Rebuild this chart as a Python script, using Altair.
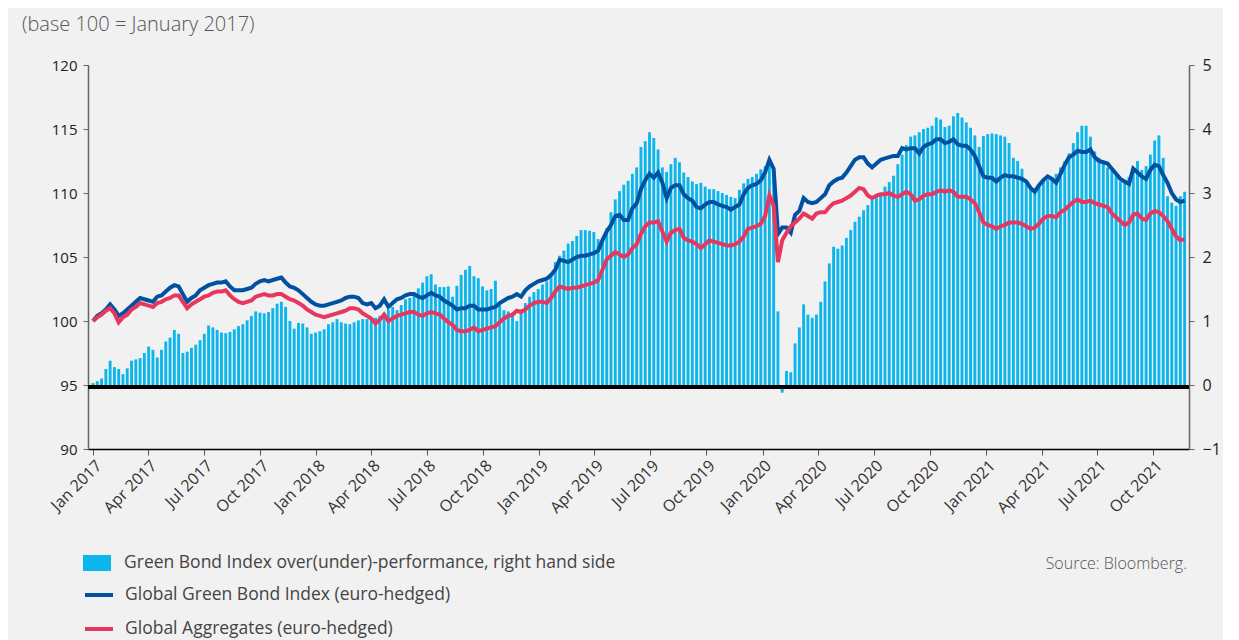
import altair as alt
import pandas as pd

# ---- data (weekly, starting 1 Jan 2017) ----
green_bond = [
    100.0, 100.4, 100.6, 100.9, 101.3, 100.9, 100.4, 100.6, 100.9, 101.2,
    101.5, 101.8, 101.7, 101.6, 101.5, 101.9, 102.0, 102.3, 102.6, 102.8,
    102.7, 102.1, 101.5, 101.8, 102.0, 102.4, 102.6, 102.8, 102.9, 103.0,
    103.0, 103.1, 102.7, 102.4, 102.4, 102.4, 102.5, 102.6, 102.9, 103.1,
    103.2, 103.1, 103.2, 103.3, 103.4, 103.0, 102.7, 102.6, 102.4, 102.1,
    101.8, 101.5, 101.3, 101.2, 101.2, 101.3, 101.4, 101.5, 101.6, 101.8,
    101.9, 101.9, 101.8, 101.4, 101.3,
    101.4, 101.0, 101.2, 101.7, 101.1,
    101.4, 101.7, 101.8, 102.0, 102.1, 102.1, 101.9, 101.8, 102.0, 102.2,
    102.0, 101.9, 101.6, 101.4, 101.2, 100.9, 101.0, 101.0, 101.2, 101.2,
    100.9, 100.9, 100.9, 101.0, 101.1, 101.4, 101.6, 101.8, 101.9, 102.1,
    101.9, 102.4, 102.7, 102.9, 103.1, 103.2, 103.3, 103.6, 104.0, 104.8,
    104.7, 104.6, 104.8, 105.0, 105.1, 105.1, 105.2, 105.3, 105.5, 106.3,
    107.0, 107.5, 108.2, 108.3, 107.9, 107.9, 108.8,
    109.2, 110.3, 111.0,
    111.5, 111.2, 111.6, 110.8, 109.6, 110.4, 110.6, 110.6, 109.9, 109.6,
    109.4, 108.9, 108.8, 109.1, 109.3, 109.3, 109.1, 109.0, 108.9, 108.7,
    108.9, 109.1, 109.9, 110.4, 110.6, 110.7, 111.0, 111.6, 112.6, 111.9,
    106.8, 107.3, 107.3, 106.9, 108.3, 108.6, 109.6, 109.3, 109.2, 109.3,
    109.6, 109.9, 110.6, 110.9, 111.1, 111.2, 111.6, 112.1, 112.6, 112.8,
    112.8, 112.3, 112.0, 112.3, 112.6, 112.7, 112.8, 112.9, 112.9, 113.5,
    113.4, 113.5,
    113.5, 113.1, 113.6, 113.8, 113.9, 114.2, 114.2, 113.9,
    114.0, 114.2, 113.8, 113.7, 113.7, 113.4, 112.9, 112.1, 111.3, 111.2,
    111.2, 110.9, 111.2, 111.4, 111.3, 111.3, 111.2, 111.1, 110.9, 110.4,
    110.1, 110.6, 111.0, 111.3, 111.1, 110.8, 111.5, 112.2, 112.8, 113.0,
    113.3, 113.2, 113.2, 113.4, 112.8, 112.5, 112.4, 112.3, 111.9, 111.5,
    111.1, 110.9, 110.7, 111.9, 111.6, 111.3, 111.1, 111.8, 112.2, 112.1,
    111.4, 110.8, 110.0, 109.5, 109.3, 109.4,
]

global_agg = [
    100.0, 100.3, 100.5, 100.8, 101.0, 100.6, 99.9, 100.3, 100.5, 100.9,
    101.1, 101.4, 101.3, 101.2, 101.1, 101.4, 101.5, 101.7, 101.8, 102.0,
    102.0, 101.5, 101.0, 101.3, 101.5, 101.7, 101.9, 102.0, 102.2, 102.3,
    102.3, 102.4, 102.0, 101.7, 101.5, 101.4, 101.5, 101.6, 101.9, 102.0,
    102.1, 102.0, 102.0, 102.1, 102.1, 101.9, 101.7, 101.6, 101.4, 101.2,
    100.9, 100.7, 100.5, 100.4, 100.3, 100.4, 100.5, 100.6, 100.7, 100.8,
    101.0, 101.0, 100.9, 100.6, 100.4,
    100.2, 99.8, 100.1, 100.5, 100.0,
    100.2, 100.4, 100.5, 100.6, 100.7, 100.7, 100.5, 100.4, 100.6, 100.7,
    100.6, 100.5, 100.2, 99.9, 99.7, 99.3, 99.2, 99.2, 99.3, 99.5,
    99.2, 99.3, 99.4, 99.5, 99.6, 99.9, 100.2, 100.4, 100.5, 100.8,
    100.7, 100.9, 101.2, 101.4, 101.5, 101.5, 101.4, 101.8, 102.3, 102.7,
    102.6, 102.5, 102.6, 102.6, 102.7, 102.8, 102.9, 103.0, 103.2, 104.0,
    104.8, 105.1, 105.4, 105.2, 105.0, 105.2, 105.7,
    106.0, 106.8, 107.4,
    107.7, 107.7, 107.8, 107.0, 106.2, 106.9, 107.1, 107.2, 106.5, 106.3,
    106.2, 106.0, 105.7, 106.0, 106.3, 106.2, 106.1, 106.0, 105.9, 105.9,
    106.0, 106.2, 106.6, 107.2, 107.3, 107.4, 107.6, 108.2, 109.8, 109.0,
    104.6, 106.3, 106.9, 107.4, 107.7, 108.0, 108.4, 108.2, 108.0, 108.4,
    108.5, 108.5, 108.9, 109.2, 109.3, 109.4, 109.6, 109.8, 110.1, 110.4,
    110.3, 109.8, 109.6, 109.8, 109.9, 109.9, 110.0, 109.8, 109.7, 109.9,
    110.1, 109.9,
    109.4, 109.5, 109.8, 109.9, 109.9, 110.1, 110.2, 110.1,
    110.2, 110.1, 109.7, 109.7, 109.7, 109.5, 109.2, 108.5, 107.7, 107.5,
    107.4, 107.2, 107.4, 107.5, 107.7, 107.7, 107.7, 107.6, 107.4, 107.2,
    107.3, 107.6, 108.0, 108.2, 108.2, 108.1, 108.5, 108.7, 109.0, 109.3,
    109.5, 109.3, 109.3, 109.4, 109.2, 109.1, 109.0, 108.9, 108.4, 108.1,
    107.8, 107.5, 107.7, 108.3, 108.4, 108.0, 107.9, 108.4, 108.6, 108.5,
    108.2, 107.8, 107.2, 106.6, 106.3, 106.4,
]

over_perf = [
    0.03, 0.06, 0.10, 0.25, 0.38, 0.28, 0.25, 0.17, 0.26, 0.38,
    0.40, 0.42, 0.50, 0.60, 0.55, 0.43, 0.55, 0.68, 0.74, 0.86,
    0.80, 0.50, 0.52, 0.58, 0.63, 0.70, 0.80, 0.93, 0.90, 0.86,
    0.82, 0.81, 0.83, 0.87, 0.92, 0.95, 1.01, 1.08, 1.15, 1.13,
    1.12, 1.14, 1.20, 1.27, 1.30, 1.22, 1.00, 0.88, 0.97, 0.96,
    0.90, 0.80, 0.82, 0.84, 0.87, 0.95, 0.98, 1.03, 0.98, 0.96,
    0.95, 0.98, 1.01, 1.03, 1.03,
    1.02, 1.05, 1.08, 1.13, 1.18,
    1.22, 1.17, 1.25, 1.34, 1.36, 1.40, 1.51, 1.60, 1.70, 1.73,
    1.57, 1.53, 1.53, 1.54, 1.38, 1.55, 1.72, 1.80, 1.86, 1.70,
    1.67, 1.54, 1.48, 1.50, 1.63, 1.30, 1.17, 1.15, 1.12, 1.00,
    1.18, 1.28, 1.38, 1.45, 1.50, 1.57, 1.62, 1.72, 1.92, 2.02,
    2.10, 2.21, 2.25, 2.33, 2.42, 2.42, 2.41, 2.39, 2.28, 2.30,
    2.45, 2.70, 2.90, 3.03, 3.13, 3.19, 3.30,
    3.40, 3.72, 3.81,
    3.95, 3.86, 3.68, 3.40, 3.33, 3.45, 3.55, 3.48, 3.32, 3.25,
    3.18, 3.14, 3.16, 3.10, 3.06, 3.06, 3.03, 3.00, 2.97, 2.94,
    2.92, 3.05, 3.15, 3.22, 3.25, 3.30, 3.37, 3.42, 3.50, 3.30,
    1.15, -0.12, 0.22, 0.20, 0.65, 0.90, 1.26, 1.10, 1.05, 1.10,
    1.30, 1.62, 1.90, 2.16, 2.13, 2.18, 2.30, 2.42, 2.55, 2.63,
    2.73, 2.81, 2.89, 2.95, 3.00, 3.10, 3.17, 3.27, 3.45, 3.60,
    3.75, 3.88,
    3.90, 3.95, 4.00, 4.02, 4.05, 4.18, 4.15, 4.03,
    4.05, 4.20, 4.25, 4.18, 4.10, 4.02, 3.90, 3.72, 3.89, 3.92,
    3.93, 3.92, 3.90, 3.88, 3.78, 3.55, 3.50, 3.38, 3.20, 3.05,
    3.05, 3.10, 3.18, 3.21, 3.25, 3.30, 3.40, 3.50, 3.62, 3.78,
    3.95, 4.05, 4.05, 3.88, 3.65, 3.55, 3.48, 3.40, 3.35, 3.28,
    3.18, 3.16, 3.25, 3.40, 3.50, 3.36, 3.42, 3.60, 3.82, 3.90,
    3.55, 2.95, 2.85, 2.80, 2.95, 3.02,
]

left_ticks = [90, 95, 100, 105, 110, 115, 120]
right_ticks = [-1, 0, 1, 2, 3, 4, 5]

LAB_BAR = "Green Bond Index over(under)-performance, right hand side"
LAB_GREEN = "Global Green Bond Index (euro-hedged)"
LAB_AGG = "Global Aggregates (euro-hedged)"
TITLE = "(base 100 = January 2017)"
SOURCE = "Source: Bloomberg."

dates = pd.date_range("2017-01-01", periods=len(green_bond), freq="7D")
df = pd.DataFrame({
    "date": dates,
    "green": green_bond,
    "agg": global_agg,
    "perf": over_perf,
})

FONT = "Open Sans"
W, H = 1101, 384

tick_vals = [alt.DateTime(year=y, month=m, date=1)
             for y in range(2017, 2022) for m in (1, 4, 7, 10)]

x_enc = alt.X(
    "date:T",
    scale=alt.Scale(domain=[alt.DateTime(year=2017, month=1, date=1),
                            alt.DateTime(year=2021, month=11, date=20)]),
    axis=alt.Axis(values=tick_vals, format="%b %Y", labelAngle=-45,
                  labelFontSize=16, labelColor="#333", labelFont=FONT,
                  domainColor="#000", domainWidth=1.5, tickColor="#555",
                  tickSize=6, grid=False, title=None, labelPadding=2,
                  labelOverlap=False, labelFlush=False),
)

base = alt.Chart(df)

bars = base.transform_calculate(bk=f"'{LAB_BAR}'").mark_bar(
    width=2.9, clip=True
).encode(
    x=x_enc,
    y=alt.Y("perf:Q",
            scale=alt.Scale(domain=[-1, 5], nice=False, zero=False),
            axis=alt.Axis(orient="right", values=right_ticks, format="d",
                          labelFontSize=16, labelColor="#222", labelFont=FONT,
                          domainColor="#666", domainWidth=1.5,
                          tickColor="#666", tickSize=5, grid=False,
                          title=None, labelPadding=8)),
    fill=alt.Fill("bk:N",
                  scale=alt.Scale(domain=[LAB_BAR], range=["#0cb6ec"]),
                  legend=alt.Legend(orient="none", legendX=-5, legendY=484,
                                    title=None,
                                    symbolType="M-1,-0.57L1,-0.57L1,0.57L-1,0.57Z",
                                    symbolSize=784, symbolStrokeWidth=0,
                                    symbolOpacity=1,
                                    labelFontSize=17.5, labelFont=FONT,
                                    labelColor="#444", labelOffset=13,
                                    labelLimit=800, padding=0)),
)

zero_rule = alt.Chart(df).mark_rule(
    color="black", strokeWidth=4, yOffset=2
).encode(y=alt.datum(0))

stroke_enc = alt.Stroke(
    "key:N",
    scale=alt.Scale(domain=[LAB_GREEN, LAB_AGG], range=["#0052a1", "#e8375e"]),
    legend=alt.Legend(orient="none", legendX=-5, legendY=514, title=None,
                      symbolType="stroke", symbolSize=784, symbolStrokeWidth=4,
                      labelFontSize=17.5, labelFont=FONT, labelColor="#444",
                      labelOffset=10, rowPadding=9, labelLimit=800, padding=0),
)

left_axis = alt.Axis(orient="left", values=left_ticks, labelFontSize=15,
                     labelColor="#222", labelFont=FONT, domainColor="#666",
                     domainWidth=1.5, tickColor="#666", tickSize=5, grid=False,
                     title=None, labelPadding=6)
left_scale = alt.Scale(domain=[90, 120], nice=False, zero=False)

blue = base.transform_calculate(key=f"'{LAB_GREEN}'").mark_line(
    strokeWidth=4, clip=True
).encode(
    x=x_enc,
    y=alt.Y("green:Q", scale=left_scale, axis=left_axis),
    stroke=stroke_enc,
)

red = base.transform_calculate(key=f"'{LAB_AGG}'").mark_line(
    strokeWidth=4, clip=True
).encode(
    x=x_enc,
    y=alt.Y("agg:Q", scale=left_scale, axis=left_axis),
    stroke=stroke_enc,
)

title_txt = alt.Chart(pd.DataFrame({"t": [TITLE]})).mark_text(
    align="left", baseline="middle", fontSize=20, font=FONT, fontWeight=300,
    color="#555"
).encode(x=alt.value(-66), y=alt.value(-40), text="t:N")

source_txt = alt.Chart(pd.DataFrame({"t": [SOURCE]})).mark_text(
    align="right", baseline="middle", fontSize=16, font=FONT, fontWeight=300,
    color="#555"
).encode(x=alt.value(1099), y=alt.value(499), text="t:N")

bars_part = alt.layer(bars, zero_rule)
lines_part = alt.layer(blue, red)

chart = alt.layer(bars_part, lines_part, title_txt, source_txt).resolve_scale(
    y="independent"
).properties(
    width=W, height=H,
    autosize=alt.AutoSizeParams(type="none"),
    padding={"left": 80, "top": 57, "right": 34, "bottom": 191},
    background="#f1f1f1",
).configure_view(stroke=None)

chart.save("out.html", embed_options={"renderer": "svg", "actions": False})
